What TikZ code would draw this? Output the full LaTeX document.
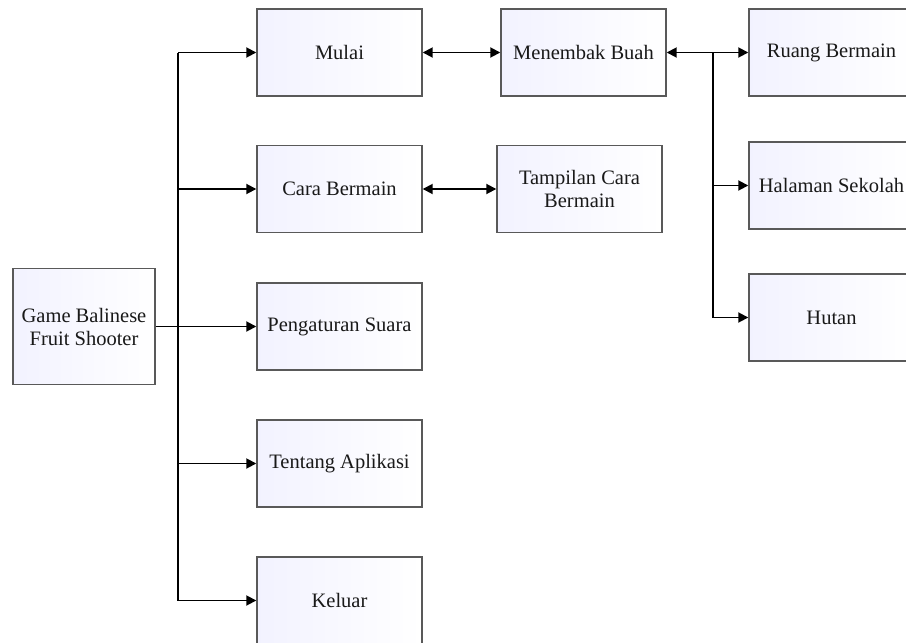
\documentclass[tikz,border=0pt]{standalone}
\usepackage{fontspec}
\setmainfont{Liberation Serif}
\usetikzlibrary{arrows.meta, positioning, calc}

\begin{document}
\begin{tikzpicture}[x=1pt, y=-1pt,
        menubox/.style={draw=black!65, line width=1.4pt, left color=blue!5!white, right color=white,
            minimum width=165pt, minimum height=87pt, inner sep=2pt, align=center,
            text=black!90, font=\fontsize{20.5}{23}\selectfont},
        link/.style={line width=1.8pt, -{Triangle[length=10pt,width=10pt]}},
        duallink/.style={line width=1.8pt, {Triangle[length=10pt,width=10pt]}-{Triangle[length=10pt,width=10pt]}}]

        % Page frame
        \useasboundingbox (0,0) rectangle (906,643);
        \clip (0,0) rectangle (906,643);

        % Main box
        \node[menubox, minimum width=142pt, minimum height=116pt] (game) at (84,326.5) {Game Balinese\\Fruit Shooter};

        % Menu boxes
        \node[menubox] (mulai)   at (339.5,52.5)  {Mulai};
        \node[menubox] (cara)    at (339.5,189)   {Cara Bermain};
        \node[menubox] (suara)   at (339.5,326.5) {Pengaturan Suara};
        \node[menubox] (tentang) at (339.5,463.5) {Tentang Aplikasi};
        \node[menubox] (keluar)  at (339.5,600.5) {Keluar};

        % Second level
        \node[menubox] (tembak)   at (583.5,52.5) {Menembak Buah};
        \node[menubox] (tampilan) at (579.5,189)  {Tampilan Cara\\Bermain};

        % Stages
        \node[menubox] (ruang)   at (831.5,52.5)  {Ruang Bermain};
        \node[menubox] (halaman) at (831.5,185.5) {Halaman Sekolah};
        \node[menubox] (hutan)   at (831.5,317.5) {Hutan};

        % Trunk lines
        \coordinate (menu) at (178,52.5);
        \coordinate (stage) at (713,52.5);

        % Menu connectors
        \draw[line width=1.8pt] (menu) -- (keluar.west -| menu);
        \draw[link] (game.east) -- (suara.west);
        \draw[link] (menu) -- (mulai.west);
        \draw[link] (cara.west -| menu) -- (cara.west);
        \draw[link] (tentang.west -| menu) -- (tentang.west);
        \draw[link] (keluar.west -| menu) -- (keluar.west);

        % Two-way connectors
        \draw[duallink] (mulai.east) -- (tembak.west);
        \draw[duallink] (cara.east) -- (tampilan.west);

        % Stage connectors
        \draw[line width=1.8pt] (stage) -- (hutan.west -| stage);
        \draw[link] (stage) -- (tembak.east);
        \draw[link] (stage) -- (ruang.west);
        \draw[link] (halaman.west -| stage) -- (halaman.west);
        \draw[link] (hutan.west -| stage) -- (hutan.west);

\end{tikzpicture}
\end{document}
